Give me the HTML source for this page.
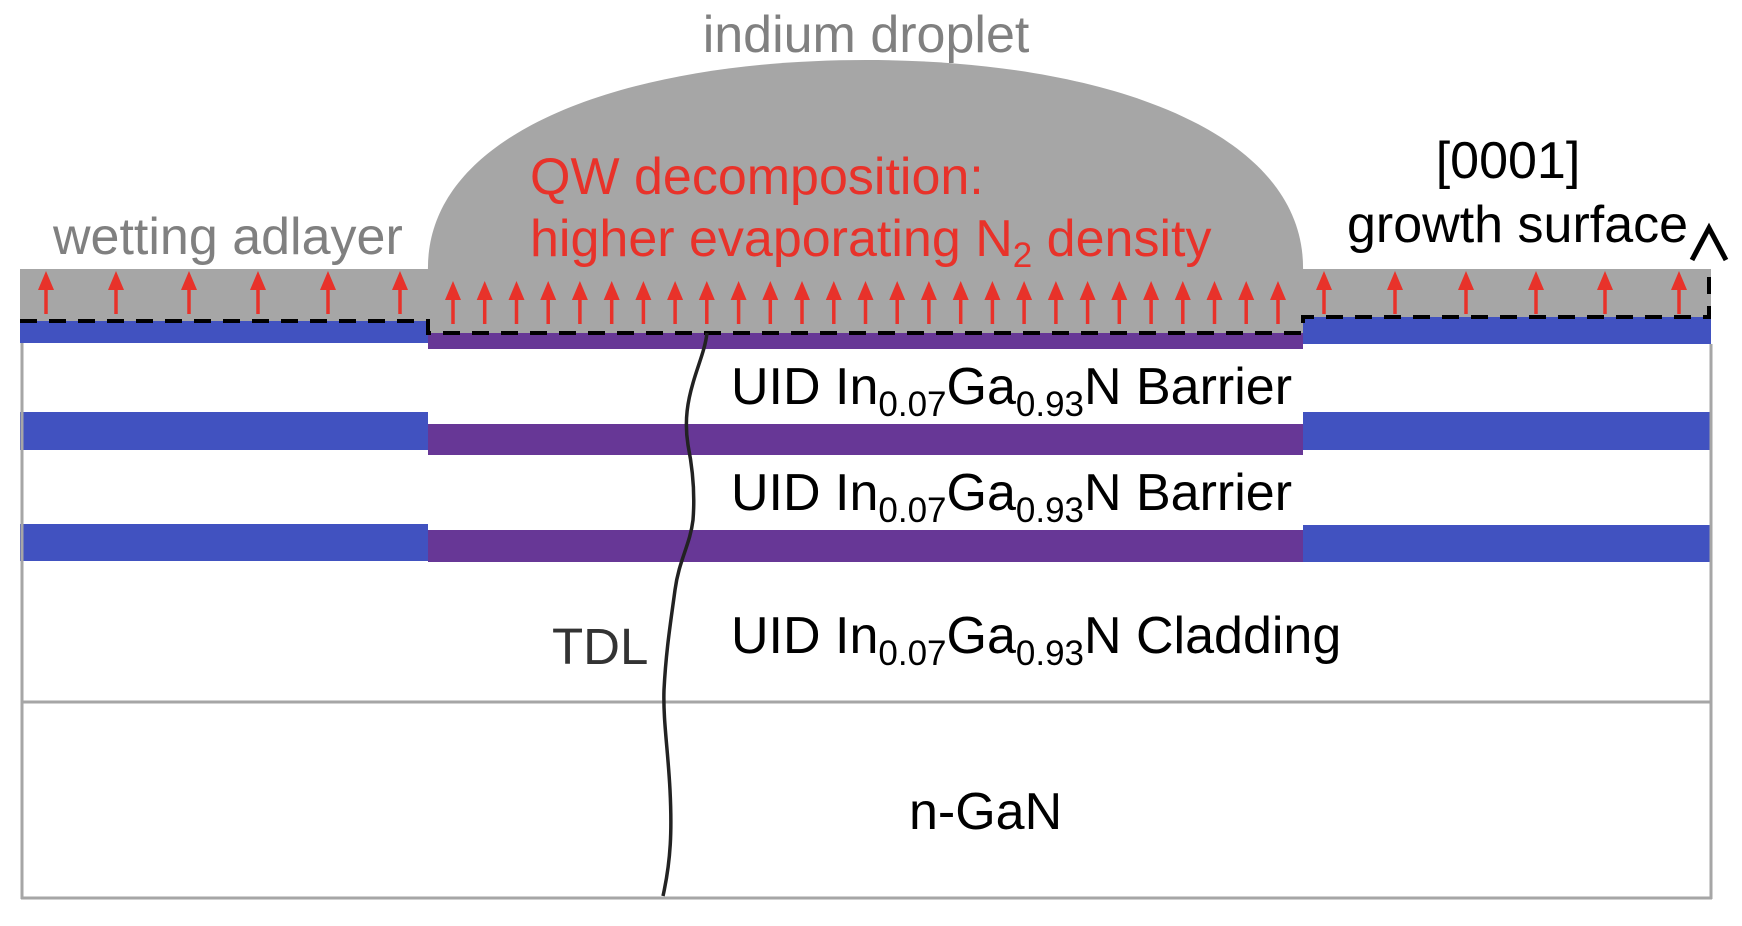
<!DOCTYPE html>
<html><head><meta charset="utf-8"><style>
html,body{margin:0;padding:0;background:#fff;}
svg{display:block;font-family:"Liberation Sans",Arial,sans-serif;}
</style></head><body>
<svg width="1742" height="926" viewBox="0 0 1742 926" xmlns="http://www.w3.org/2000/svg">
<defs>
<g id="ua"><line x1="0" y1="12" x2="0" y2="40" stroke="#e8322a" stroke-width="3.5"/><polygon points="-8,16 8,16 0,-3" fill="#e8322a"/></g>
<g id="da"><line x1="0" y1="12" x2="0" y2="41" stroke="#e8322a" stroke-width="3.5"/><polygon points="-8,17 8,17 0,-2" fill="#e8322a"/></g>
</defs>
<path d="M428,272 C424,130 630,60 866,60 C1102,60 1307,130 1303,272 Z" fill="#a6a6a6"/>
<rect x="20" y="269" width="410" height="52" fill="#a6a6a6"/>
<rect x="1300" y="269" width="411" height="48" fill="#a6a6a6"/>
<rect x="428" y="265" width="875" height="68" fill="#a6a6a6"/>
<rect x="20" y="321" width="408" height="22" fill="#4152c0"/>
<rect x="20" y="412" width="408" height="38" fill="#4152c0"/>
<rect x="20" y="524" width="408" height="37" fill="#4152c0"/>
<rect x="1303" y="317" width="408" height="27" fill="#4152c0"/>
<rect x="1303" y="412" width="408" height="38" fill="#4152c0"/>
<rect x="1303" y="525" width="408" height="37" fill="#4152c0"/>
<rect x="428" y="333" width="875" height="16" fill="#673796"/>
<rect x="428" y="424" width="875" height="31" fill="#673796"/>
<rect x="428" y="530" width="875" height="32" fill="#673796"/>
<g stroke="#a6a6a6" stroke-width="3" fill="none">
<line x1="22" y1="343" x2="22" y2="899"/>
<line x1="1711" y1="344" x2="1711" y2="899"/>
<line x1="21" y1="898" x2="1712" y2="898"/>
<line x1="21" y1="702" x2="1712" y2="702"/>
</g>
<path d="M20,321 H428 V333 H1303 V317 H1709 V269" fill="none" stroke="#000" stroke-width="4" stroke-dasharray="17,12"/>
<path d="M1692,260 L1709,228 L1726,260" fill="none" stroke="#000" stroke-width="5"/>
<g transform="translate(0,274)">
<use href="#ua" x="46"/><use href="#ua" x="116"/><use href="#ua" x="189"/><use href="#ua" x="258"/><use href="#ua" x="328"/><use href="#ua" x="400"/>
<use href="#ua" x="1324"/><use href="#ua" x="1395"/><use href="#ua" x="1466"/><use href="#ua" x="1536"/><use href="#ua" x="1605"/><use href="#ua" x="1679"/>
</g>
<g transform="translate(0,283)">
<use href="#da" x="453"/><use href="#da" x="484.7"/><use href="#da" x="516.5"/><use href="#da" x="548.2"/><use href="#da" x="579.9"/><use href="#da" x="611.7"/><use href="#da" x="643.4"/><use href="#da" x="675.1"/><use href="#da" x="706.8"/><use href="#da" x="738.6"/><use href="#da" x="770.3"/><use href="#da" x="802"/><use href="#da" x="833.8"/><use href="#da" x="865.5"/><use href="#da" x="897.2"/><use href="#da" x="928.9"/><use href="#da" x="960.7"/><use href="#da" x="992.4"/><use href="#da" x="1024.1"/><use href="#da" x="1055.9"/><use href="#da" x="1087.6"/><use href="#da" x="1119.3"/><use href="#da" x="1151.1"/><use href="#da" x="1182.8"/><use href="#da" x="1214.5"/><use href="#da" x="1246.2"/><use href="#da" x="1278"/>
</g>
<path d="M707,333 C705,350 698,365 693,383 C688,400 684,420 688,445 C693,470 695,495 693,520 C690,545 679,560 675,590 C671,620 666,650 664,690 C663,720 668,750 670,790 C672,830 671,860 663,896" fill="none" stroke="#222" stroke-width="3.5"/>
<text x="866" y="52" font-size="52" fill="#808080" text-anchor="middle">indium droplet</text>
<text x="53" y="254" font-size="52" fill="#808080">wetting adlayer</text>
<text x="530" y="194" font-size="52" fill="#e8322a">QW decomposition:</text>
<text x="530" y="256" font-size="52" fill="#e8322a">higher evaporating N<tspan font-size="35" dy="11">2</tspan><tspan dy="-11"> density</tspan></text>
<text x="1508" y="178" font-size="52" fill="#000" text-anchor="middle">[0001]</text>
<text x="1347" y="242" font-size="52" fill="#000">growth surface</text>
<g font-size="52" fill="#000">
<text x="731" y="404">UID In<tspan font-size="35" dy="12">0.07</tspan><tspan dy="-12">Ga</tspan><tspan font-size="35" dy="12">0.93</tspan><tspan dy="-12">N Barrier</tspan></text>
<text x="731" y="510">UID In<tspan font-size="35" dy="12">0.07</tspan><tspan dy="-12">Ga</tspan><tspan font-size="35" dy="12">0.93</tspan><tspan dy="-12">N Barrier</tspan></text>
<text x="731" y="653">UID In<tspan font-size="35" dy="12">0.07</tspan><tspan dy="-12">Ga</tspan><tspan font-size="35" dy="12">0.93</tspan><tspan dy="-12">N Cladding</tspan></text>
<text x="909" y="829">n-GaN</text>
</g>
<text x="552" y="664" font-size="51" fill="#333">TDL</text>
</svg>
</body></html>
